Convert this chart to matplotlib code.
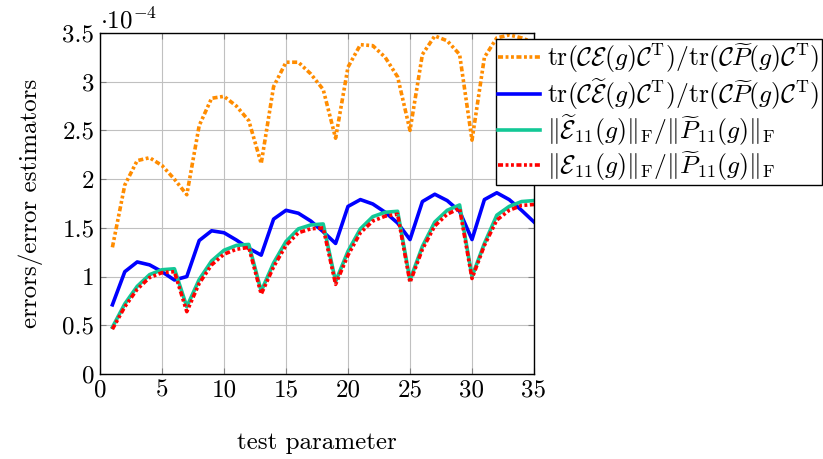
import matplotlib
matplotlib.use("Agg")
import matplotlib.pyplot as plt
from matplotlib.ticker import FuncFormatter, MultipleLocator

plt.rcParams['font.family'] = 'serif'
plt.rcParams['font.serif'] = ['cmr10']
plt.rcParams['mathtext.fontset'] = 'cm'
plt.rcParams['axes.unicode_minus'] = False

x = list(range(1, 36))
trace_true = [1.30, 1.94, 2.19, 2.22, 2.14, 2.00, 1.84, 2.55, 2.83, 2.85, 2.75, 2.60, 2.16,
              2.95, 3.20, 3.20, 3.08, 2.92, 2.42, 3.15, 3.38, 3.37, 3.25, 3.05, 2.50,
              3.28, 3.47, 3.42, 3.28, 2.40, 3.25, 3.45, 3.48, 3.45, 3.40]
trace_est = [0.71, 1.05, 1.15, 1.12, 1.05, 0.965, 1.00, 1.37, 1.47, 1.45, 1.375, 1.29, 1.22,
             1.59, 1.68, 1.65, 1.57, 1.46, 1.34, 1.72, 1.79, 1.745, 1.66, 1.55, 1.38,
             1.77, 1.845, 1.78, 1.67, 1.38, 1.79, 1.86, 1.79, 1.68, 1.56]
fro_est = [0.48, 0.72, 0.90, 1.02, 1.07, 1.08, 0.69, 0.97, 1.16, 1.27, 1.32, 1.33, 0.85,
           1.14, 1.36, 1.49, 1.53, 1.54, 0.95, 1.26, 1.49, 1.615, 1.66, 1.67, 0.965,
           1.31, 1.56, 1.68, 1.735, 1.00, 1.34, 1.63, 1.72, 1.77, 1.78]
fro_true = [0.46, 0.69, 0.87, 0.99, 1.04, 1.05, 0.64, 0.93, 1.12, 1.23, 1.28, 1.30, 0.82,
            1.10, 1.32, 1.45, 1.49, 1.50, 0.92, 1.22, 1.45, 1.57, 1.62, 1.64, 0.94,
            1.28, 1.52, 1.64, 1.70, 0.98, 1.32, 1.58, 1.68, 1.73, 1.74]
scale = 1e-4

labels = [
    r'$\mathrm{tr}(\mathcal{C}\mathcal{E}(g)\mathcal{C}^{\mathrm{T}})/\mathrm{tr}(\mathcal{C}\widetilde{P}(g)\mathcal{C}^{\mathrm{T}})$',
    r'$\mathrm{tr}(\mathcal{C}\widetilde{\mathcal{E}}(g)\mathcal{C}^{\mathrm{T}})/\mathrm{tr}(\mathcal{C}\widetilde{P}(g)\mathcal{C}^{\mathrm{T}})$',
    r'$\Vert\widetilde{\mathcal{E}}_{11}(g)\Vert_{\mathrm{F}}/\Vert\widetilde{P}_{11}(g)\Vert_{\mathrm{F}}$',
    r'$\Vert\mathcal{E}_{11}(g)\Vert_{\mathrm{F}}/\Vert\widetilde{P}_{11}(g)\Vert_{\mathrm{F}}$',
]

fig = plt.figure(figsize=(8.23, 4.59), dpi=100)
ax = fig.add_axes([100/823, 1-374/459, 434/823, 341/459])

orange = '#ff8c00'
blue = '#0000ff'
green = '#12c896'
red = '#ff0000'
lw = 2.6
dd = (1.4, 0.7, 0.8, 0.7, 0.8, 0.7)

ax.plot(x, [v*scale for v in trace_true], color=orange, lw=lw, dashes=dd, label=labels[0])
ax.plot(x, [v*scale for v in trace_est], color=blue, lw=lw, label=labels[1])
ax.plot(x, [v*scale for v in fro_est], color=green, lw=lw, label=labels[2])
ax.plot(x, [v*scale for v in fro_true], color=red, lw=lw, dashes=dd, label=labels[3])

ax.set_xlim(0, 35)
ax.set_ylim(0, 3.5e-4)
ax.xaxis.set_major_locator(MultipleLocator(5))
ax.yaxis.set_major_locator(MultipleLocator(0.5e-4))
ax.yaxis.set_major_formatter(FuncFormatter(lambda v, p: '%g' % round(v/scale, 3)))
ax.grid(True, color='#c0c0c0', lw=0.8)
ax.set_axisbelow(True)
ax.tick_params(direction='in', top=True, right=True, length=4, width=0.8, labelsize=18,
               color='#808080', pad=4)
for s in ax.spines.values():
    s.set_linewidth(1.0)

ax.set_xlabel('test parameter', fontsize=18, labelpad=22)
ax.set_ylabel('errors/error estimators', fontsize=18, labelpad=14)
ax.text(0.0, 1.0, r'$\cdot 10^{-4}$', transform=ax.transAxes, fontsize=18, ha='left', va='bottom')

leg = fig.legend(loc='upper right', bbox_to_anchor=(0.999, 1-39/459), fontsize=18.5,
                 frameon=True, fancybox=False, edgecolor='black', framealpha=1,
                 handlelength=1.6, handletextpad=0.3, borderpad=0.1, labelspacing=0.05,
                 borderaxespad=0)
leg.get_frame().set_linewidth(1.0)

fig.savefig('out.png', dpi=100)
